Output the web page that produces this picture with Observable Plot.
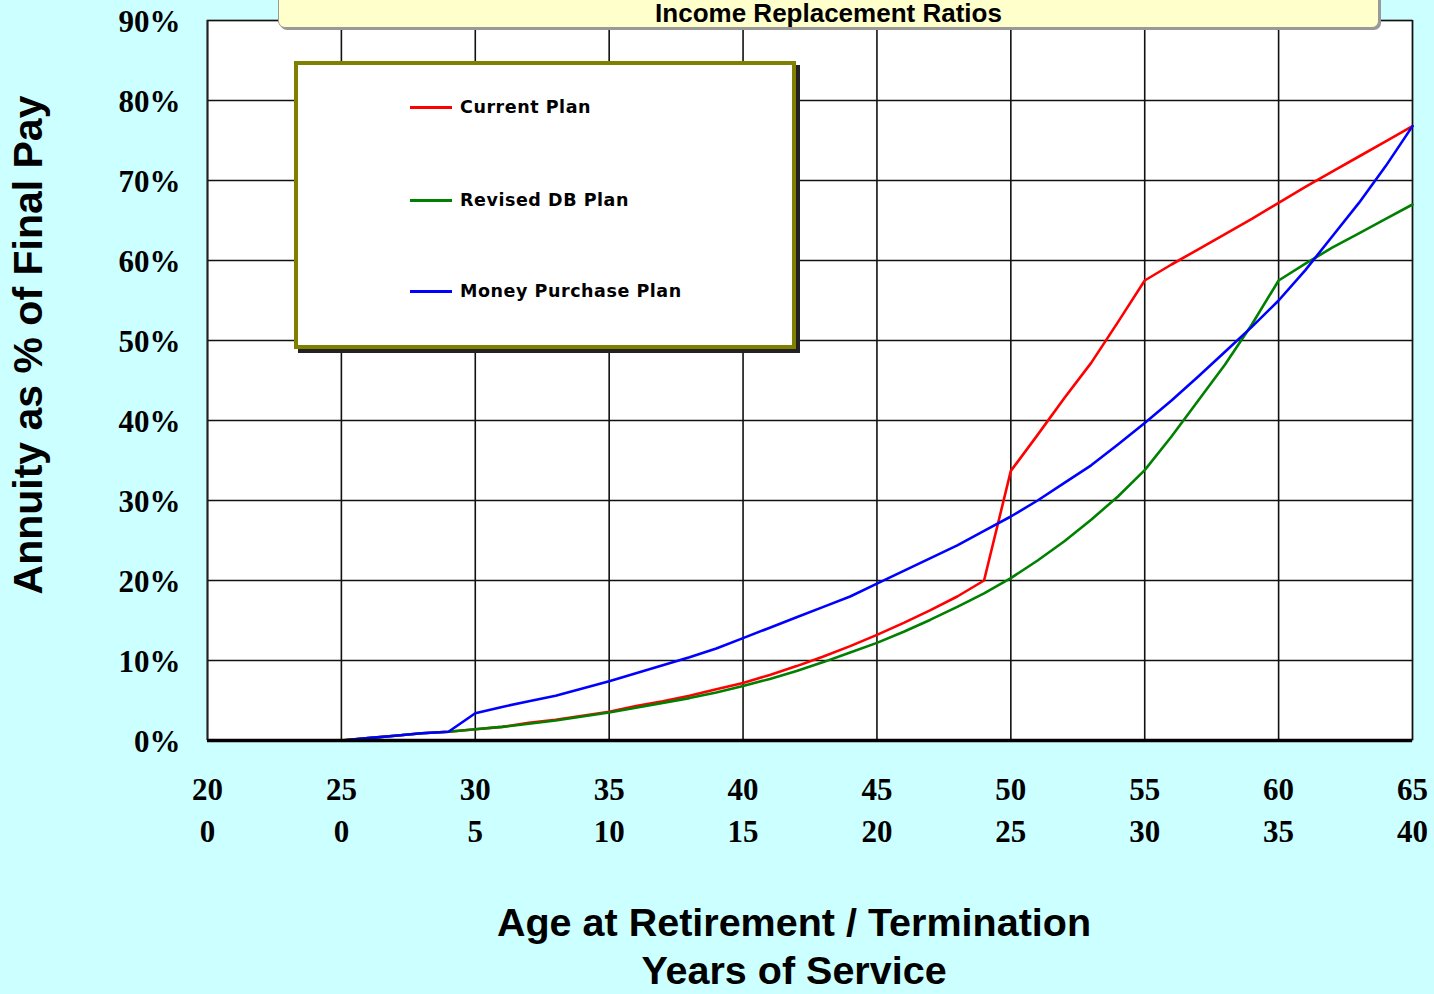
<!DOCTYPE html>
<html><head><meta charset="utf-8">
<script src="https://cdn.jsdelivr.net/npm/d3@7"></script>
<script src="https://cdn.jsdelivr.net/npm/@observablehq/plot@0.6"></script>
<style>
html,body{margin:0;padding:0;background:#ccffff;width:1434px;height:994px;overflow:hidden;position:relative;font-family:"Liberation Sans",Arial,sans-serif;}
#chart{position:absolute;left:0;top:0;}
#titlebox{position:absolute;left:278px;top:-10px;width:1099px;height:36px;background:#ffffcc;border:1px solid #999;border-radius:7px;box-shadow:2px 2px 0 #999;}
#titlebox span{position:absolute;left:0;right:0;top:9px;text-align:center;font:bold 26px/26px "Liberation Sans",Arial,sans-serif;color:#000;}
#legend{position:absolute;left:294px;top:61px;width:494px;height:280px;background:#fff;border:4px solid #808000;box-shadow:4px 4px 0 #222;}
.item{position:absolute;left:112px;height:20px;}
.item .sw{position:absolute;left:0;top:9px;width:42px;height:3px;}
.item .lb{position:absolute;left:50px;top:0;white-space:nowrap;font:bold 17.5px/20px "DejaVu Sans",Verdana,sans-serif;letter-spacing:0.55px;color:#000;}
.ytitle{position:absolute;left:28px;top:345px;transform:translate(-50%,-50%) rotate(-90deg);white-space:nowrap;font:bold 41px/41px "Liberation Sans",Arial,sans-serif;color:#000;}
.xtitle{position:absolute;left:0;width:1588px;text-align:center;white-space:nowrap;font:bold 39.5px/33px "Liberation Sans",Arial,sans-serif;color:#000;}
</style></head><body>
<div id="chart"></div>
<div id="titlebox"><span>Income Replacement Ratios</span></div>
<div id="legend"></div>
<div class="ytitle">Annuity as % of Final Pay</div>
<div class="xtitle" style="top:906px">Age at Retirement / Termination</div>
<div class="xtitle" style="top:954px">Years of Service</div>
<script>
const ages = [25,26,27,28,29,30,31,32,33,34,35,36,37,38,39,40,41,42,43,44,45,46,47,48,49,50,51,52,53,54,55,56,57,58,59,60,61,62,63,64,65];
const currentPlan = [0,0.3,0.6,0.9,1.1,1.4,1.7,2.2,2.6,3.1,3.6,4.3,4.9,5.6,6.4,7.2,8.2,9.3,10.5,11.8,13.2,14.7,16.3,18.0,20.0,33.7,38.2,42.8,47.2,52.3,57.5,59.5,61.4,63.3,65.2,67.2,69.2,71.1,73.0,74.9,76.8];
const revisedDBPlan = [0,0.3,0.6,0.9,1.1,1.4,1.7,2.1,2.5,3.0,3.5,4.1,4.7,5.3,6.0,6.8,7.7,8.7,9.8,11.0,12.2,13.6,15.1,16.7,18.4,20.3,22.5,24.9,27.6,30.5,33.8,38.0,42.5,47.0,52.0,57.5,59.6,61.6,63.4,65.2,67.0];
const moneyPurchasePlan = [0,0.3,0.6,0.9,1.1,3.4,4.2,4.9,5.6,6.5,7.4,8.4,9.4,10.4,11.5,12.8,14.1,15.4,16.7,18.0,19.6,21.2,22.8,24.4,26.2,28.0,30.0,32.2,34.4,37.0,39.7,42.5,45.5,48.6,51.7,55.0,58.8,63.0,67.2,71.8,76.8];
const seriesNames = ["Current Plan","Revised DB Plan","Money Purchase Plan"];
const seriesColors = ["#ff0000","#008000","#0000ff"];
const ageTicks = [20,25,30,35,40,45,50,55,60,65];
const serviceTicks = [0,0,5,10,15,20,25,30,35,40];
const yTicks = [0,10,20,30,40,50,60,70,80,90];

const seriesValues = [currentPlan, revisedDBPlan, moneyPurchasePlan];
const rows = seriesNames.flatMap((name, s) => ages.map((age, i) => ({series: name, age, value: seriesValues[s][i]})));
const serviceByAge = new Map(ageTicks.map((a, i) => [a, serviceTicks[i]]));

const plot = Plot.plot({
  width: 1434, height: 994,
  marginLeft: 207, marginRight: 22, marginTop: 20, marginBottom: 254,
  style: {background: "transparent", fontFamily: "'Liberation Serif', 'Times New Roman', serif", color: "#000"},
  x: {domain: [20, 65]},
  y: {domain: [0, 90]},
  color: {domain: seriesNames, range: seriesColors},
  marks: [
    Plot.frame({fill: "white", stroke: "#888", strokeWidth: 1.5}),
    Plot.gridX(ageTicks, {stroke: "#111", strokeOpacity: 1, strokeWidth: 1.6}),
    Plot.gridY(yTicks, {stroke: "#111", strokeOpacity: 1, strokeWidth: 1.6}),
    Plot.ruleX([20], {stroke: "#222", strokeWidth: 1.6}),
    Plot.line(rows, {x: "age", y: "value", z: "series", stroke: "series", strokeWidth: 2.6}),
    Plot.ruleY([0], {stroke: "#000", strokeWidth: 3.5}),
    Plot.axisY(yTicks, {tickSize: 0, tickPadding: 27, dy: 2, tickFormat: d => d + "%", fontSize: 31, fontWeight: "bold", label: null}),
    Plot.axisX(ageTicks, {tickSize: 0, tickPadding: 37, tickFormat: d => String(d), fontSize: 31, fontWeight: "bold", label: null}),
    Plot.axisX(ageTicks, {tickSize: 0, tickPadding: 79, tickFormat: d => String(serviceByAge.get(d)), fontSize: 31, fontWeight: "bold", label: null})
  ]
});
document.getElementById("chart").appendChild(plot);

const legend = document.getElementById("legend");
const itemTops = [32, 125, 216];
seriesNames.forEach((name, i) => {
  const it = document.createElement("div");
  it.className = "item";
  it.style.top = itemTops[i] + "px";
  const sw = document.createElement("div");
  sw.className = "sw";
  sw.style.background = seriesColors[i];
  const lb = document.createElement("div");
  lb.className = "lb";
  lb.textContent = name;
  it.appendChild(sw); it.appendChild(lb);
  legend.appendChild(it);
});
</script>
</body></html>
